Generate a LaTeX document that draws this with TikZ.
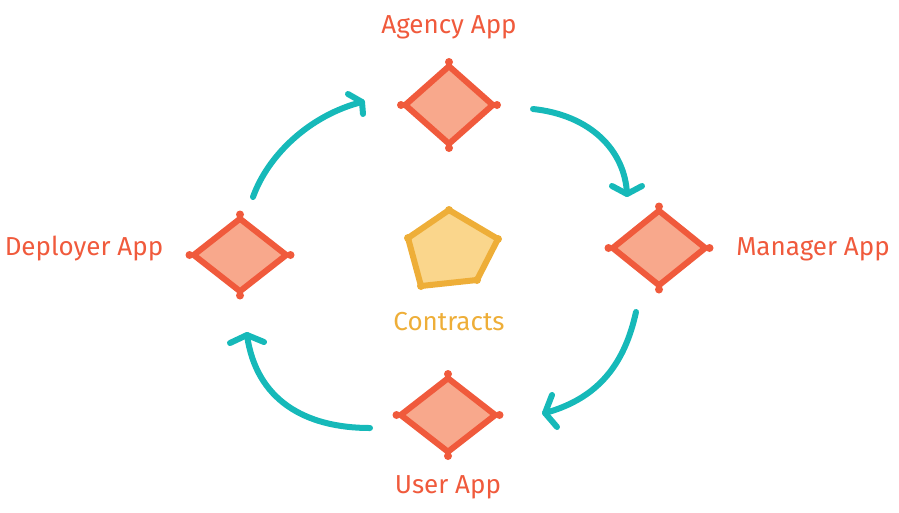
\documentclass[tikz,border=0pt]{standalone}
\usepackage{fontspec}
\setmainfont{Fira Sans}
\usetikzlibrary{shapes.geometric}
\definecolor{appred}{RGB}{240,90,60}
\definecolor{appfill}{RGB}{248,168,140}
\definecolor{conline}{RGB}{238,174,56}
\definecolor{confill}{RGB}{250,214,140}
\definecolor{flow}{RGB}{22,185,185}
\tikzset{
  appbox/.style={shape=diamond, draw=appred, fill=appfill, line width=6pt, inner sep=0pt, line join=round},
  applabel/.style={text=appred, font=\fontsize{26}{30}\selectfont, inner sep=0pt},
  conlabel/.style={text=conline, font=\fontsize{26}{30}\selectfont, inner sep=0pt},
  flowline/.style={draw=flow, line width=6pt, line cap=round, line join=round},
  bump/.style={fill=appred, draw=none},
}
\begin{document}
\begin{tikzpicture}[x=1pt,y=-1pt]
\useasboundingbox (0,0) rectangle (899,512);
% diamonds
\node[appbox, minimum width=90pt, minimum height=80pt] (agency) at (449,105) {};
\node[appbox, minimum width=95pt, minimum height=75pt] (deployer) at (240,255) {};
\node[appbox, minimum width=95pt, minimum height=77pt] (manager) at (659,248) {};
\node[appbox, minimum width=97pt, minimum height=76pt] (user) at (448,415) {};
\foreach \n in {agency,deployer,manager,user}{
  \foreach \a in {north,south,east,west}{
    \fill[bump] (\n.\a) circle (4pt);
  }
}
% labels
\node[applabel] (lagency) at (449,27) {Agency App};
\node[applabel] (ldeployer) at (84,249) {Deployer App};
\node[applabel] (lmanager) at (813,249) {Manager App};
\node[applabel] (luser) at (448,487) {User App};
% contracts pentagon
\coordinate (p1) at (449,210);
\coordinate (p2) at (498,239);
\coordinate (p3) at (477,280);
\coordinate (p4) at (421,286);
\coordinate (p5) at (408,238);
\draw[draw=conline, fill=confill, line width=6pt, line join=round] (p1) -- (p2) -- (p3) -- (p4) -- (p5) -- cycle;
\foreach \p in {p1,p2,p3,p4,p5}{\fill[conline] (\p) circle (4pt);}
\node[conlabel] (lcontracts) at (449,322) {Contracts};
% flow arrows
\coordinate (a1s) at (253,197); \coordinate (a1e) at (362,102);
\coordinate (a1l) at (348,94);  \coordinate (a1r) at (363,114);
\coordinate (a2s) at (533,109); \coordinate (a2e) at (627,194);
\coordinate (a2l) at (612,186); \coordinate (a2r) at (642,186);
\coordinate (a3s) at (636,312); \coordinate (a3e) at (545,413);
\coordinate (a3l) at (552,395); \coordinate (a3r) at (557,427);
\coordinate (a4s) at (370,428); \coordinate (a4e) at (247,335);
\coordinate (a4l) at (230,343); \coordinate (a4r) at (264,342);
\draw[flowline] (a1s) .. controls (268,155) and (310,115) .. (a1e);
\draw[flowline] (a1l) -- (a1e) -- (a1r);
\draw[flowline] (a2s) .. controls (590,115) and (625,150) .. (a2e);
\draw[flowline] (a2l) -- (a2e) -- (a2r);
\draw[flowline] (a3s) .. controls (625,362) and (600,398) .. (a3e);
\draw[flowline] (a3l) -- (a3e) -- (a3r);
\draw[flowline] (a4s) .. controls (305,428) and (256,400) .. (a4e);
\draw[flowline] (a4l) -- (a4e) -- (a4r);
\end{tikzpicture}
\end{document}
